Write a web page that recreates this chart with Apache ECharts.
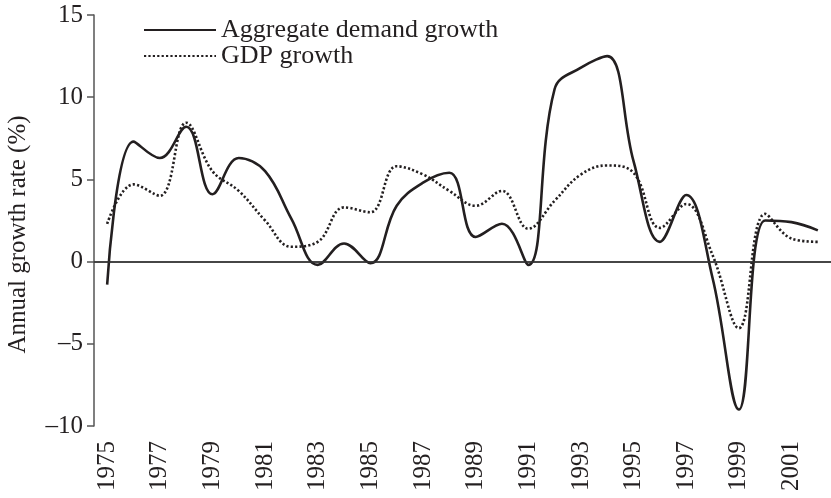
<!DOCTYPE html>
<html>
<head>
<meta charset="utf-8">
<script src="https://cdn.jsdelivr.net/npm/echarts@6/dist/echarts.min.js"></script>
<style>
  html, body { margin: 0; padding: 0; background: #fff; }
  #chart { width: 831px; height: 498px; }
</style>
</head>
<body>
<div id="chart"></div>
<script>
  // 数据
  var years = ['1975', '1976', '1977', '1978', '1979', '1980', '1981', '1982', '1983', '1984',
    '1985', '1986', '1987', '1988', '1989', '1990', '1991', '1992', '1993', '1994',
    '1995', '1996', '1997', '1998', '1999', '2000', '2001', '2002'];
  var adGrowth = [-1.4, 7.3, 6.3, 8.2, 4.1, 6.3, 5.5, 2.6, -0.2, 1.1,
    -0.1, 3.4, 4.8, 5.4, 1.5, 2.3, -0.2, 10.5, 11.8, 12.5,
    6.1, 1.2, 4.05, -1.0, -9.0, 2.5, 2.4, 1.9];
  var gdpGrowth = [2.3, 4.7, 4.0, 8.45, 5.5, 4.3, 2.5, 0.9, 1.2, 3.3,
    3.0, 5.8, 5.3, 4.3, 3.4, 4.3, 2.0, 3.7, 5.3, 5.85,
    5.4, 2.05, 3.5, 0.4, -4.05, 2.9, 1.4, 1.2];

  var ink = '#231f20';
  var font = 'Liberation Serif';

  var myChart = echarts.init(document.getElementById('chart'));
  myChart.setOption({
    animation: false,
    textStyle: { fontFamily: font, color: ink },
    grid: { left: 94, right: 0, top: 15, bottom: 72, outerBoundsMode: 'none', containLabel: false },
    legend: {
      orient: 'vertical',
      left: 138,
      top: 12,
      itemWidth: 72,
      itemHeight: 14,
      itemGap: 0,
      itemStyle: { opacity: 0 }, // 只显示线段，不显示圆点
      textStyle: { fontFamily: font, fontSize: 26, color: ink, lineHeight: 26 },
      data: ['Aggregate demand growth', 'GDP growth']
    },
    xAxis: {
      type: 'category',
      data: years,
      boundaryGap: true,
      axisLine: { lineStyle: { color: '#555', width: 1.5 } },
      axisTick: { show: false },
      axisLabel: {
        interval: 1,
        rotate: 90,
        margin: 15,
        fontFamily: font,
        fontSize: 25,
        color: ink
      }
    },
    yAxis: {
      type: 'value',
      min: -10,
      max: 15,
      interval: 5,
      name: 'Annual growth rate (%)',
      nameLocation: 'middle',
      nameGap: 63,
      nameTextStyle: { fontFamily: font, fontSize: 25, color: ink, padding: [0, 28, 0, 0] },
      axisLine: { show: true, lineStyle: { color: '#555', width: 1.5 } },
      axisTick: { show: true, length: 7, lineStyle: { color: '#555', width: 1.5 } },
      splitLine: { show: false },
      axisLabel: {
        margin: 11,
        fontFamily: font,
        fontSize: 25,
        color: ink,
        formatter: function (v) { return String(v).replace('-', '\u2013'); }
      }
    },
    series: [
      {
        name: 'Aggregate demand growth',
        type: 'line',
        data: adGrowth,
        smooth: 0.4,
        symbol: 'none',
        lineStyle: { color: ink, width: 2.6, type: 'solid' },
        itemStyle: { color: ink },
        // 零线
        markLine: {
          silent: true,
          symbol: 'none',
          label: { show: false },
          lineStyle: { color: '#333', width: 1.5, type: 'solid' },
          data: [{ yAxis: 0 }]
        },
        z: 3
      },
      {
        name: 'GDP growth',
        type: 'line',
        data: gdpGrowth,
        smooth: 0.4,
        symbol: 'none',
        lineStyle: { color: ink, width: 2.6, type: [2.2, 2.2] },
        itemStyle: { color: ink },
        z: 2
      }
    ]
  });
</script>
</body>
</html>
